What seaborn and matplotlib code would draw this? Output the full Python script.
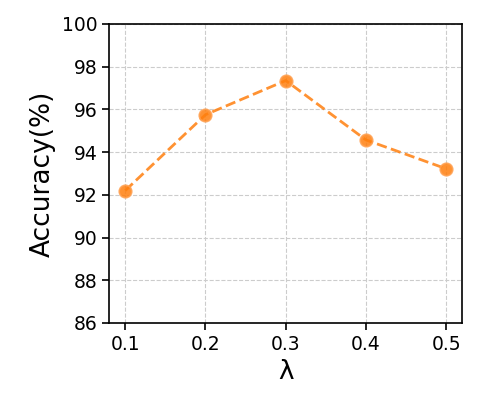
import matplotlib
matplotlib.use("Agg")
import matplotlib.pyplot as plt
import seaborn as sns
import pandas as pd

# values
lambdas = [0.1, 0.2, 0.3, 0.4, 0.5]
accuracy = [92.2, 95.75, 97.35, 94.57, 93.22]

data = pd.DataFrame({"lambda": lambdas, "acc": accuracy})

sns.set_style("ticks", {"axes.edgecolor": "black", "text.color": "black",
                        "xtick.color": "black", "ytick.color": "black",
                        "axes.labelcolor": "black"})
plt.rcParams['font.family'] = ['DejaVu Sans']

fig, ax = plt.subplots(figsize=(4.79, 4.13), dpi=100)
sns.lineplot(data=data, x="lambda", y="acc", ax=ax, color="#ff7f0e",
             linestyle="--", linewidth=2, marker="o", markersize=9,
             alpha=0.85, markeredgecolor="#ffa050", markeredgewidth=1.2)

ax.set_xlim(0.08, 0.52)
ax.set_ylim(86, 100)
ax.set_xticks(lambdas)
ax.set_yticks(range(86, 101, 2))
ax.grid(True, linestyle="--", color="#cccccc", linewidth=0.8)
ax.tick_params(labelsize=13.5, width=1.2, length=5)
for s in ax.spines.values():
    s.set_linewidth(1.2)
ax.set_xlabel("λ", fontsize=19)
ax.set_ylabel("Accuracy(%)", fontsize=19)

fig.subplots_adjust(left=0.228, right=0.965, top=0.942, bottom=0.218)
fig.savefig("out.png", dpi=100)
